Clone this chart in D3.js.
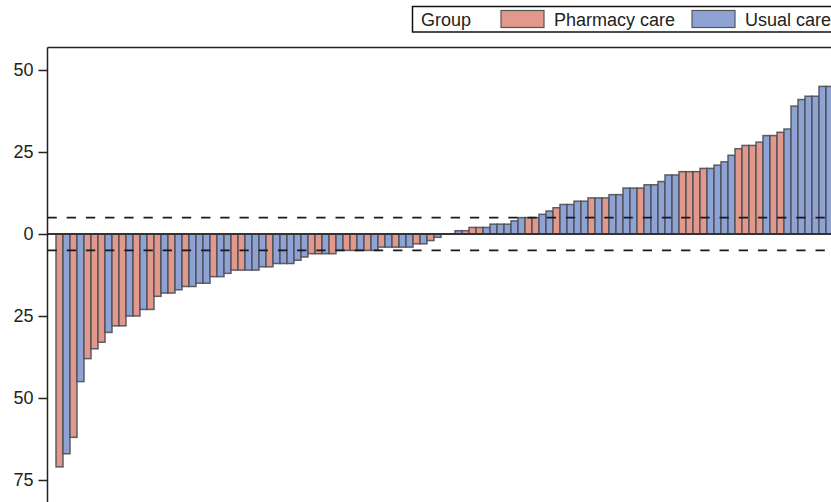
<!DOCTYPE html>
<html><head><meta charset="utf-8">
<script src="https://cdn.jsdelivr.net/npm/d3@7"></script>
<style>body{margin:0;background:#fff}svg{display:block}</style>
</head><body>
<script>
const groups = ["P","U","P","U","P","P","P","U","P","P","U","P","U","P","P","U","P","U","P","U",
"U","U","P","U","U","P","P","U","U","U","P","U","U","U","U","U","P","P","U","P",
"U","P","P","U","P","U","P","U","P","U","U","P","U","P","U","U","P","U","P","P",
"P","U","U","U","U","U","U","P","P","U","U","P","U","U","U","U","P","U","P","U",
"U","U","U","P","U","U","U","U","U","P","P","P","P","U","U","U","U","P","P","P",
"P","U","P","P","U","U","U","U","U","U","U"];
const values = [-71,-67,-62,-45,-38,-35,-33,-30,-28,-28,-25,-25,-23,-23,-19,-18,-18,-17,-16,-16,
-15,-15,-13,-13,-12,-11,-11,-11,-11,-10,-10,-9,-9,-9,-8,-7,-6,-6,-6,-6,
-5,-5,-5,-5,-5,-5,-4,-4,-4,-4,-4,-3,-3,-2,-1,0,0,1,1,2,
2,2,3,3,3,4,5,5,5,6,7,8,9,9,10,10,11,11,11,12,
12,14,14,14,15,15,16,18,18,19,19,19,20,20,21,22,24,26,27,27,
28,30,30,31,32,39,41,42,42,45,45];
const yTicks = [50,25,0,-25,-50,-75];
const thresholds = [5,-5];
const legendLabels = {P:"Pharmacy care", U:"Usual care"};
const colors = {P:"#E2998C", U:"#8EA3D4"};

const W=831,H=502;
const svg=d3.select("body").append("svg").attr("width",W).attr("height",H);
const plotLeft=47.5, plotTop=47.5;
const x=d3.scaleBand().domain(d3.range(values.length)).range([56,56+values.length*7]).padding(0);
const y=d3.scaleLinear().domain([-75,50]).range([480,70]);
const tf="Liberation Sans, Arial, sans-serif";

const g=svg.append("g");
g.selectAll("rect.bar").data(values).join("rect").attr("class","bar")
  .attr("x",(d,i)=>x(i)).attr("width",x.bandwidth())
  .attr("y",d=>y(Math.max(0,d))).attr("height",d=>Math.abs(y(d)-y(0)))
  .attr("fill",(d,i)=>colors[groups[i]]).attr("stroke","#4d5058").attr("stroke-width",1.5).attr("stroke-opacity",0.9);

g.selectAll("line.th").data(thresholds).join("line").attr("class","th")
  .attr("x1",plotLeft).attr("x2",W).attr("y1",d=>y(d)).attr("y2",d=>y(d))
  .attr("stroke","#1a1a1a").attr("stroke-width",1.8).attr("stroke-dasharray","9.3,9.9");
g.append("line").attr("x1",plotLeft).attr("x2",W).attr("y1",y(0)).attr("y2",y(0))
  .attr("stroke","#333").attr("stroke-width",1.8);

svg.append("line").attr("x1",plotLeft).attr("x2",W).attr("y1",plotTop).attr("y2",plotTop).attr("stroke","#222").attr("stroke-width",1.5);
const ax=svg.append("g").attr("transform",`translate(${plotLeft},0)`)
  .call(d3.axisLeft(y).tickValues(yTicks).tickFormat(d=>Math.abs(d)).tickSize(9).tickPadding(5));
ax.select(".domain").remove();
ax.append("line").attr("x1",0).attr("x2",0).attr("y1",plotTop).attr("y2",H).attr("stroke","#222").attr("stroke-width",1.5);
ax.selectAll(".tick line").attr("stroke","#222").attr("stroke-width",1.5);
ax.selectAll(".tick text").attr("font-family",tf).attr("font-size",18).attr("fill","#222");

const lg=svg.append("g");
lg.append("rect").attr("x",412.5).attr("y",6.5).attr("width",440).attr("height",25.5).attr("fill","#fff").attr("stroke","#111").attr("stroke-width",1.5);
lg.append("text").attr("x",421).attr("y",25.5).attr("font-family",tf).attr("font-size",18).attr("fill","#222").text("Group");
const items=[{k:"P",sx:501,tx:554},{k:"U",sx:692,tx:745}];
items.forEach(it=>{
  lg.append("rect").attr("x",it.sx).attr("y",10.5).attr("width",43).attr("height",17).attr("fill",colors[it.k]).attr("stroke","#555").attr("stroke-width",1.2);
  lg.append("text").attr("x",it.tx).attr("y",25.5).attr("font-family",tf).attr("font-size",18).attr("fill","#222").text(legendLabels[it.k]);
});
</script>
</body></html>
